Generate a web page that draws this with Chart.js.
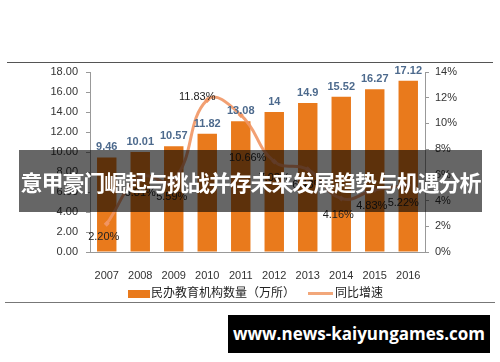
<!DOCTYPE html>
<html>
<head>
<meta charset="utf-8">
<script src="https://cdn.jsdelivr.net/npm/chart.js@4/dist/chart.umd.min.js"></script>
<style>
  body { margin: 0; width: 500px; height: 362px; background: #fff; position: relative; overflow: hidden; font-family: "Liberation Sans", sans-serif; }
  #chart { position: absolute; left: 0; top: 0; }
  .rule { position: absolute; height: 1px; background: #555; }
  .legend { position: absolute; top: 283px; font: 12px "Noto Sans CJK SC", sans-serif; color: #222; white-space: nowrap; }
  #banner { position: absolute; left: 19px; top: 150px; width: 463px; height: 62px; background: rgba(0,0,0,0.6);
            color: #fff; font: bold 22px "Noto Sans CJK SC", sans-serif; line-height: 62px; text-align: center;
            white-space: nowrap; letter-spacing: -1.1px; }
  #site { position: absolute; left: 228px; top: 315px; width: 262px; height: 38px; background: #000;
          color: #fff; font: bold 17px "Open Sans", sans-serif; line-height: 38px; text-align: center; }
</style>
</head>
<body>
<canvas id="chart" width="500" height="300"></canvas>
<div class="rule" style="left:7px; top:62px; width:486px;"></div>
<div class="rule" style="left:5px; top:302px; width:490px; background:#777;"></div>

<div class="legend" style="left:128px;">
  <span style="display:inline-block; width:22px; height:8px; background:#e97a1c; vertical-align:middle; margin-right:1px;"></span>民办教育机构数量（万所）
</div>
<div class="legend" style="left:308px;">
  <span style="display:inline-block; width:25px; height:3px; background:#f2a77a; vertical-align:middle; margin-right:2px;"></span>同比增速
</div>

<div id="banner">意甲豪门崛起与挑战并存未来发展趋势与机遇分析</div>
<div id="site">www.news-kaiyungames.com</div>

<script>
'use strict';

const years = ['2007', '2008', '2009', '2010', '2011', '2012', '2013', '2014', '2015', '2016'];
const institutions = [9.46, 10.01, 10.57, 11.82, 13.08, 14, 14.9, 15.52, 16.27, 17.12];
const growthRate = [2.20, 5.81, 5.59, 11.83, 10.66, 7.03, 6.43, 4.16, 4.83, 5.22];
const leftTicks = [0, 2, 4, 6, 8, 10, 12, 14, 16, 18];
const rightTicks = [0, 2, 4, 6, 8, 10, 12, 14];

// where each growth label sits relative to its point (dx, dy)
const growthLabelShift = [[-3, 13], [0, 16], [-2, 17], [-10, -3], [7, 43], [0, 16], [0, 16], [-3, 16], [-3, 16], [-5, 18]];

const valueLabels = {
  id: 'valueLabels',
  afterDatasetsDraw(chart) {
    const c = chart.ctx;
    c.save();
    c.textAlign = 'center';
    c.textBaseline = 'middle';

    c.font = 'bold 11px "Liberation Sans", sans-serif';
    c.fillStyle = '#4d6a8d';
    chart.getDatasetMeta(0).data.forEach((bar, i) => {
      c.fillText(String(institutions[i]), bar.x, bar.y - 10);
    });

    c.font = '11px "Liberation Sans", sans-serif';
    c.fillStyle = '#222';
    chart.getDatasetMeta(1).data.forEach((pt, i) => {
      const s = growthLabelShift[i];
      c.fillText(growthRate[i].toFixed(2) + '%', pt.x + s[0], pt.y + s[1]);
    });
    c.restore();
  }
};

new Chart(document.getElementById('chart'), {
  data: {
    labels: years,
    datasets: [{
      type: 'bar',
      label: '民办教育机构数量（万所）',
      data: institutions,
      backgroundColor: '#e97a1c',
      categoryPercentage: 1,
      barPercentage: 0.58,
      yAxisID: 'y',
      order: 2
    }, {
      type: 'line',
      label: '同比增速',
      data: growthRate,
      borderColor: 'rgba(241,150,100,0.9)',
      backgroundColor: 'rgba(241,150,100,0.95)',
      borderWidth: 3,
      tension: 0.45,
      pointStyle: 'rectRot',
      pointRadius: 3,
      pointBorderWidth: 0,
      yAxisID: 'y1',
      order: 1
    }]
  },
  options: {
    responsive: false,
    animation: false,
    devicePixelRatio: 1,
    layout: { padding: { top: 72, left: 0, right: 0, bottom: 0 } },
    plugins: { legend: { display: false }, tooltip: { enabled: false } },
    scales: {
      x: {
        grid: { display: false },
        border: { display: true, color: '#999' },
        ticks: { color: '#333', font: { size: 11, family: 'Liberation Sans' }, padding: 9 },
        afterFit: s => { s.height = 48; }
      },
      y: {
        position: 'left',
        min: leftTicks[0],
        max: leftTicks[leftTicks.length - 1],
        afterBuildTicks: s => { s.ticks = leftTicks.map(v => ({ value: v })); },
        ticks: { color: '#333', font: { size: 11, family: 'Liberation Sans' }, padding: 8, callback: v => v.toFixed(2) },
        grid: { drawOnChartArea: false, tickLength: 4, color: '#999' },
        border: { color: '#999' },
        afterFit: s => { s.width = 90; }
      },
      y1: {
        position: 'right',
        min: rightTicks[0],
        max: rightTicks[rightTicks.length - 1],
        afterBuildTicks: s => { s.ticks = rightTicks.map(v => ({ value: v })); },
        ticks: { color: '#333', font: { size: 11, family: 'Liberation Sans' }, padding: 6, callback: v => v + '%' },
        grid: { drawOnChartArea: false, tickLength: 4, color: '#999' },
        border: { color: '#999' },
        afterFit: s => { s.width = 75; }
      }
    }
  },
  plugins: [valueLabels]
});
</script>
</body>
</html>
